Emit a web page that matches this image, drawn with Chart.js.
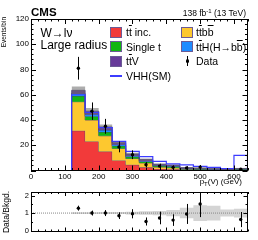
<!DOCTYPE html>
<html>
<head>
<meta charset="UTF-8">
<title>VHH pT(V) large radius</title>
<script src="https://cdn.jsdelivr.net/npm/chart.js"></script>
<style>
body { margin:0; background:#fff; width:258px; height:240px; overflow:hidden; position:relative; font-family:"Liberation Sans", Arial, sans-serif; }
canvas { position:absolute; left:0; }
.t { position:absolute; white-space:nowrap; color:#000; line-height:1; }
.lg { font-size:10.5px; }
.o { text-decoration:overline; }
.box { position:absolute; width:10px; height:9px; border:1px solid #6b5b95; }
.rot { position:absolute; transform:rotate(-90deg); transform-origin:0 0; white-space:nowrap; line-height:1; }
</style>
</head>
<body>
<canvas id="main" width="258" height="184" style="top:0"></canvas>
<canvas id="ratio" width="258" height="56" style="top:184px"></canvas>

<div class="t" style="left:31px;top:7px;font-size:11.5px;font-weight:bold">CMS</div>
<div class="t" style="right:12px;top:8.8px;font-size:8.5px">138 fb<span style="font-size:6px;position:relative;top:-3px">-1</span> (13 TeV)</div>
<div class="t" style="left:40.5px;top:26.5px;font-size:12px">W→lν</div>
<div class="t" style="left:40.5px;top:38.8px;font-size:12px">Large radius</div>

<!-- legend -->
<div class="box" style="left:110px;top:26.5px;background:#f23a3a"></div>
<div class="t lg" style="left:126px;top:27px">t<span class="o">t</span> inc.</div>
<div class="box" style="left:110px;top:41px;background:#12b612"></div>
<div class="t lg" style="left:126px;top:41.5px">Single t</div>
<div class="box" style="left:110px;top:55.5px;background:#663a99"></div>
<div class="t lg" style="left:126px;top:56px">t<span class="o">t</span>V</div>
<div style="position:absolute;left:110px;top:75px;width:12px;height:1.5px;background:#3c3cff"></div>
<div class="t lg" style="left:126px;top:70.5px">VHH(SM)</div>

<div class="box" style="left:181px;top:26.5px;background:#fdc82f"></div>
<div class="t lg" style="left:196px;top:27px">t<span class="o">t</span>b<span class="o">b</span></div>
<div class="box" style="left:181px;top:41px;background:#1e8cff"></div>
<div class="t lg" style="left:196px;top:41.5px">t<span class="o">t</span>H(H→b<span class="o">b</span>)</div>
<div style="position:absolute;left:187px;top:56px;width:1px;height:10px;background:#000"></div>
<div style="position:absolute;left:185.8px;top:59.3px;width:3.4px;height:3.4px;border-radius:50%;background:#000"></div>
<div class="t lg" style="left:196px;top:56px">Data</div>

<div class="t" style="right:16px;top:178px;font-size:8px">p<span style="font-size:6px;position:relative;top:1.5px">T</span>(V) (GeV)</div>
<div class="rot" style="left:1px;top:76.7px;width:60px;text-align:right;font-size:6.5px">Events/bin</div>
<div class="rot" style="left:2px;top:237px;width:50px;text-align:center;font-size:8.5px">Data/Bkgd.</div>

<script>
// binning: 40 GeV bins from 120 to 640 GeV
const binEdges   = [120, 160, 200, 240, 280, 320, 360, 400, 440, 480, 520, 560, 600, 640];
const binCenters = [140, 180, 220, 260, 300, 340, 380, 420, 460, 500, 540, 580, 620];

// background stack, events per bin (bottom to top)
const ttInc   = [31.5, 23, 15, 8, 4.5, 2.5, 1.2, 1.0, 0.5, 0.4, 0.3, 0.2, 0.3];
const ttbb    = [23, 17, 12.5, 9.5, 5, 3.5, 1.5, 1.2, 0.5, 0.4, 0.3, 0.2, 0.3];
const singleT = [4.5, 3, 3, 2, 1.5, 1.2, 1.0, 1.0, 0.6, 0.5, 0.4, 0.3, 0.5];
const ttH     = [2, 1.5, 1.5, 1, 0.8, 0.5, 0.4, 0.3, 0.2, 0.2, 0.1, 0.1, 0.2];
const ttV     = [2.5, 2.5, 2.5, 1.5, 1.2, 1.0, 0.8, 0.7, 0.4, 0.3, 0.3, 0.2, 0.3];
const bkgUnc  = [3, 2.5, 2, 1.3, 1, 0.8, 0.6, 0.6, 0.6, 0.7, 0.6, 0.2, 0.4];

// signal line
const vhhSM = [60, 46, 34, 23, 15.2, 11, 7.2, 5.3, 4.5, 3.2, 2.4, 1.6, 12];

// data
const dataY   = [81, 47, 35, 18.7, 12.5, 4.5, 3.5, 2.5, 2.0, 2.7, null, null, 1.0];
const dataErr = [9, 6.9, 5.9, 4.3, 3.5, 2.1, 1.9, 1.6, 1.4, 1.6, null, null, 1.0];

// ratio panel
const ratioY     = [1.28, 1.0, 1.0, 0.85, 0.96, 0.52, 0.72, 0.6, 0.95, 1.52, null, null, 0.63];
const ratioErrLo = [0.14, 0.14, 0.17, 0.19, 0.26, 0.23, 0.36, 0.33, 0.57, 0.75, null, null, 0.43];
const ratioErrHi = [0.14, 0.14, 0.17, 0.19, 0.26, 0.23, 0.36, 0.33, 0.57, 0.48, null, null, 0.43];
const ratioUnc   = [0.05, 0.05, 0.06, 0.06, 0.08, 0.1, 0.12, 0.18, 0.3, 0.45, 0.42, 0.2, 0.25];

Chart.defaults.font.family = '"Liberation Sans", Arial, sans-serif';
Chart.defaults.color = '#000';

const last = binEdges.length - 1;

// histogram outline as points for a stepped line
function stepPts(vals, closed) {
  const pts = [];
  if (closed) pts.push({x: binEdges[0], y: 0});
  vals.forEach((v, i) => pts.push({x: binEdges[i], y: v}));
  pts.push({x: binEdges[last], y: vals[vals.length - 1]});
  if (closed) pts.push({x: binEdges[last], y: 0});
  return pts;
}

// cumulative sums for the stack
const layers = [ttInc, ttbb, singleT, ttH, ttV];
const cum = [];
layers.forEach((l, k) => cum.push(l.map((v, i) => v + (k ? cum[k - 1][i] : 0))));
const total = cum[cum.length - 1];

const stackColors = ['#f23a3a', '#fdc82f', '#12b612', '#1e8cff', '#663a99'];
const outline = '#4a3f7a';

const errorBars = {
  id: 'errorBars',
  afterDatasetsDraw(chart) {
    const {ctx, scales: {x, y}} = chart;
    chart.data.datasets.forEach(ds => {
      if (!ds.errLo) return;
      ctx.save();
      ctx.strokeStyle = '#000';
      ctx.lineWidth = 1;
      ds.data.forEach((p, j) => {
        if (p.y == null) return;
        const px = Math.round(x.getPixelForValue(p.x)) + 0.5;
        ctx.beginPath();
        ctx.moveTo(px, y.getPixelForValue(p.y - ds.errLo[j]));
        ctx.lineTo(px, y.getPixelForValue(p.y + ds.errHi[j]));
        ctx.stroke();
      });
      ctx.restore();
    });
  }
};

// ROOT style frame with inward ticks
function frameTicks(o) {
  return {
    id: 'frameTicks',
    afterDatasetsDraw(chart) {
      const {ctx, chartArea: a, scales: {x, y}} = chart;
      ctx.save();
      ctx.strokeStyle = '#000';
      ctx.lineWidth = 1;
      ctx.beginPath();
      for (let i = 0; i <= o.xN; i++) {
        const v = i * o.xMinor;
        const len = i % o.xEvery === 0 ? o.maj : o.maj / 2;
        const px = Math.round(x.getPixelForValue(v)) + 0.5;
        ctx.moveTo(px, a.bottom); ctx.lineTo(px, a.bottom - len);
        ctx.moveTo(px, a.top); ctx.lineTo(px, a.top + len);
      }
      for (let i = 0; i <= o.yN; i++) {
        const v = i * o.yMinor;
        const len = i % o.yEvery === 0 ? o.maj : o.maj / 2;
        const py = Math.round(y.getPixelForValue(v)) + 0.5;
        ctx.moveTo(a.left, py); ctx.lineTo(a.left + len, py);
        ctx.moveTo(a.right, py); ctx.lineTo(a.right - len, py);
      }
      ctx.stroke();
      ctx.strokeRect(Math.round(a.left) + 0.5, Math.round(a.top) + 0.5,
                     Math.round(a.width) - 1, Math.round(a.height) - 1);
      ctx.restore();
    }
  };
}

// ---------- main panel ----------
const mainSets = layers.map((l, k) => ({
  data: stepPts(cum[k], true),
  stepped: 'before',
  borderColor: outline,
  borderWidth: 0.8,
  backgroundColor: stackColors[k],
  fill: k === 0 ? 'origin' : '-1',
  pointRadius: 0,
  order: 20 - k
}));
mainSets.push({
  data: stepPts(total.map((t, i) => t + bkgUnc[i]), false),
  stepped: 'before', borderWidth: 0, pointRadius: 0, fill: false, order: 5
});
mainSets.push({
  data: stepPts(total.map((t, i) => t - bkgUnc[i]), false),
  stepped: 'before', borderWidth: 0, pointRadius: 0,
  fill: '-1', backgroundColor: 'rgba(105,105,105,0.55)', order: 4
});
mainSets.push({
  data: [{x: 0, y: 0}].concat(stepPts(vhhSM, true)),
  stepped: 'before', borderColor: '#3c3cff', borderWidth: 1.2,
  pointRadius: 0, fill: false, order: 2
});
mainSets.push({
  data: binCenters.map((c, i) => ({x: c, y: dataY[i]})),
  showLine: false, pointRadius: 1.7, pointBackgroundColor: '#000',
  pointBorderWidth: 0, errLo: dataErr, errHi: dataErr, order: 1
});

new Chart(document.getElementById('main'), {
  type: 'line',
  data: {datasets: mainSets},
  options: {
    responsive: false, animation: false, devicePixelRatio: 1,
    layout: {padding: {left: 0, right: 10.5, top: 19, bottom: 0}},
    plugins: {legend: {display: false}, tooltip: {enabled: false}},
    scales: {
      x: {
        type: 'linear', min: 0, max: 640,
        grid: {display: false, drawTicks: false}, border: {display: false},
        afterBuildTicks: s => { s.ticks = [0, 100, 200, 300, 400, 500, 600].map(v => ({value: v})); },
        afterFit: s => { s.height = 13.5; },
        ticks: {font: {size: 8}, padding: 1, maxRotation: 0, autoSkip: false}
      },
      y: {
        min: 0, max: 120,
        grid: {display: false, drawTicks: false}, border: {display: false},
        afterBuildTicks: s => { s.ticks = [20, 40, 60, 80, 100, 120].map(v => ({value: v})); },
        afterFit: s => { s.width = 31; },
        ticks: {font: {size: 8}, padding: 2}
      }
    }
  },
  plugins: [errorBars, frameTicks({xMinor: 20, xN: 32, xEvery: 5, yMinor: 4, yN: 30, yEvery: 5, maj: 5})]
});

// ---------- ratio panel ----------
const ratioSets = [
  {
    data: binCenters.map((c, i) => ({x: c, y: ratioY[i]})),
    showLine: false, pointRadius: 1.7, pointBackgroundColor: '#000',
    pointBorderWidth: 0, errLo: ratioErrLo, errHi: ratioErrHi, order: 1
  },
  {
    data: [{x: 0, y: 1}, {x: 640, y: 1}],
    borderColor: '#888', borderWidth: 1, borderDash: [1, 1],
    pointRadius: 0, fill: false, order: 2
  },
  {
    data: stepPts(ratioUnc.map(u => 1 + u), false),
    stepped: 'before', borderWidth: 0, pointRadius: 0, fill: false, order: 4
  },
  {
    data: stepPts(ratioUnc.map(u => 1 - u), false),
    stepped: 'before', borderWidth: 0, pointRadius: 0,
    fill: '-1', backgroundColor: '#d4d4d4', order: 3
  }
];

new Chart(document.getElementById('ratio'), {
  type: 'line',
  data: {datasets: ratioSets},
  options: {
    responsive: false, animation: false, devicePixelRatio: 1,
    layout: {padding: {left: 0, right: 10.5, top: 8, bottom: 8.5}},
    plugins: {legend: {display: false}, tooltip: {enabled: false}},
    scales: {
      x: {type: 'linear', min: 0, max: 640, display: false},
      y: {
        min: -0.05, max: 2.2,
        grid: {display: false, drawTicks: false}, border: {display: false},
        afterBuildTicks: s => { s.ticks = [0, 1, 2].map(v => ({value: v})); },
        afterFit: s => { s.width = 31; },
        ticks: {font: {size: 7.5}, padding: 2}
      }
    }
  },
  plugins: [errorBars, frameTicks({xMinor: 20, xN: 32, xEvery: 5, yMinor: 0.5, yN: 4, yEvery: 2, maj: 4})]
});
</script>
</body>
</html>
